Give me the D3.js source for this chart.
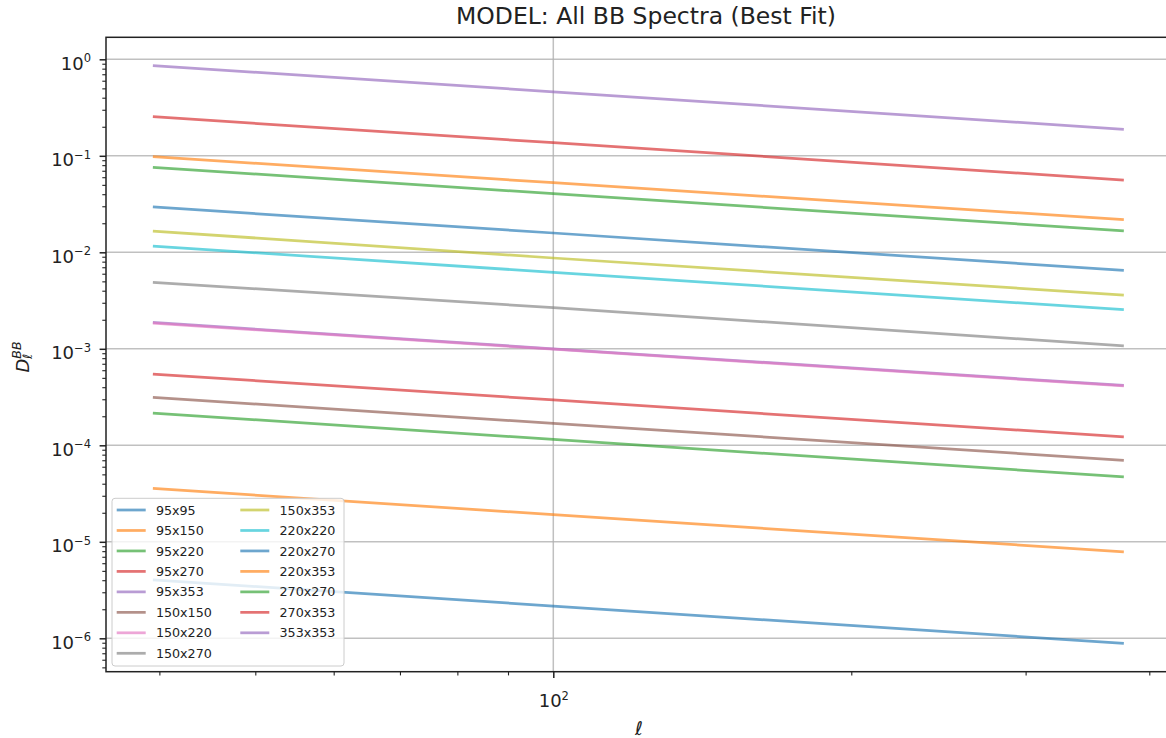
<!DOCTYPE html>
<html>
<head>
<meta charset="utf-8">
<script src="https://cdn.jsdelivr.net/npm/d3@7"></script>
<style>
  body { margin: 0; background: #fff; }
  text { font-family: "DejaVu Sans", sans-serif; fill: #222; }
</style>
</head>
<body>
<svg id="chart"></svg>
<script>
// Data (multipole ell and D_ell^BB per cross spectrum)
const ells = [39.4, 100, 377];
const spectraNames = [
    "95x95", "95x150", "95x220", "95x270", "95x353",
    "150x150", "150x220", "150x270", "150x353",
    "220x220", "220x270", "220x353",
    "270x270", "270x353", "353x353"
];
const d95x95   = [4.04e-6, 2.16e-6, 8.87e-7];
const d95x150  = [3.58e-5, 1.91e-5, 7.87e-6];
const d95x220  = [2.16e-4, 1.15e-4, 4.70e-5];
const d95x270  = [5.48e-4, 2.95e-4, 1.22e-4];
const d95x353  = [1.88e-3, 1.00e-3, 4.17e-4];
const d150x150 = [3.14e-4, 1.69e-4, 7.00e-5];
const d150x220 = [1.85e-3, 0.99e-3, 4.12e-4];
const d150x270 = [4.89e-3, 2.67e-3, 1.07e-3];
const d150x353 = [1.66e-2, 8.73e-3, 3.61e-3];
const d220x220 = [1.16e-2, 6.20e-3, 2.54e-3];
const d220x270 = [2.95e-2, 1.585e-2, 6.50e-3];
const d220x353 = [9.80e-2, 5.26e-2, 2.18e-2];
const d270x270 = [7.60e-2, 4.05e-2, 1.67e-2];
const d270x353 = [0.254, 0.1367, 0.0561];
const d353x353 = [0.86, 0.461, 0.188];
const spectraValues = [
    d95x95, d95x150, d95x220, d95x270, d95x353,
    d150x150, d150x220, d150x270, d150x353,
    d220x220, d220x270, d220x353,
    d270x270, d270x353, d353x353
];
const yDecades = [-6, -5, -4, -3, -2, -1, 0];
const xMajor = [100];
const xMinor = [40, 50, 60, 70, 80, 90, 200, 300, 400];

// Chart dimensions (right edge of the axes is cropped off the picture)
const margin = { top: 37.3, left: 106 };
const width = 1066;
const height = 634.4;

const svg = d3.select("#chart")
    .attr("width", 1166)
    .attr("height", 738);

const g = svg.append("g")
    .attr("transform", `translate(${margin.left},${margin.top})`);

// scales
const x = d3.scaleLog().domain([35.33, 421.7]).range([0, width]);
const y = d3.scaleLog().domain([Math.pow(10, -6.346), Math.pow(10, 0.228)]).range([height, 0]);
const color = d3.scaleOrdinal().domain(spectraNames).range(d3.schemeCategory10);

// grid
g.append("g").selectAll("line")
    .data(yDecades)
    .join("line")
    .attr("x1", 0).attr("x2", width)
    .attr("y1", d => y(Math.pow(10, d))).attr("y2", d => y(Math.pow(10, d)))
    .attr("stroke", "#b0b0b0").attr("stroke-opacity", 0.8).attr("stroke-width", 1.5);
g.append("g").selectAll("line")
    .data(xMajor)
    .join("line")
    .attr("x1", d => x(d)).attr("x2", d => x(d))
    .attr("y1", 0).attr("y2", height)
    .attr("stroke", "#b0b0b0").attr("stroke-opacity", 0.8).attr("stroke-width", 1.5);

// lines
const line = d3.line()
    .x((d, i) => x(ells[i]))
    .y(d => y(d));

g.append("g").selectAll("path")
    .data(spectraValues)
    .join("path")
    .attr("d", d => line(d))
    .attr("fill", "none")
    .attr("stroke", (d, i) => color(spectraNames[i]))
    .attr("stroke-width", 2.75)
    .attr("stroke-opacity", 0.65);

// helper for 10^n labels
function powerLabel(sel, exp, supSize, supRise) {
    sel.text(null);
    sel.append("tspan").text("10");
    sel.append("tspan")
        .attr("font-size", supSize)
        .attr("dy", -supRise)
        .text(exp < 0 ? "\u2212" + (-exp) : exp);
}

// y axis (major)
const yMinorVals = [];
for (let e = -7; e <= 0; e++) {
    for (let m = 2; m <= 9; m++) {
        const v = m * Math.pow(10, e);
        if (v >= y.domain()[0] && v <= y.domain()[1]) yMinorVals.push(v);
    }
}
const yAxis = g.append("g")
    .call(d3.axisLeft(y)
        .tickValues(yDecades.map(d => Math.pow(10, d)))
        .tickSize(6.4)
        .tickPadding(8.6));
yAxis.select(".domain").remove();
yAxis.selectAll(".tick line").attr("stroke", "#222").attr("stroke-width", 1.5);
yAxis.selectAll(".tick text")
    .attr("font-family", "DejaVu Sans")
    .attr("font-size", 18)
    .attr("dy", 0)
    .attr("y", 10)
    .each(function (d) {
        powerLabel(d3.select(this), Math.round(Math.log10(d)), 11.5, 7.6);
    });

g.append("g")
    .call(d3.axisLeft(y).tickValues(yMinorVals).tickSize(3.7).tickFormat(""))
    .call(a => a.select(".domain").remove())
    .selectAll(".tick line").attr("stroke", "#222").attr("stroke-width", 1.1);

// x axis
const xAxis = g.append("g")
    .attr("transform", `translate(0,${height})`)
    .call(d3.axisBottom(x).tickValues(xMajor).tickSize(6.4));
xAxis.select(".domain").remove();
xAxis.selectAll(".tick line").attr("stroke", "#222").attr("stroke-width", 1.5);
xAxis.selectAll(".tick text")
    .attr("font-family", "DejaVu Sans")
    .attr("font-size", 18)
    .attr("dy", 0)
    .attr("y", 35.6)
    .each(function (d) {
        powerLabel(d3.select(this), Math.round(Math.log10(d)), 11.5, 7.3);
    });

g.append("g")
    .attr("transform", `translate(0,${height})`)
    .call(d3.axisBottom(x).tickValues(xMinor).tickSize(3.7).tickFormat(""))
    .call(a => a.select(".domain").remove())
    .selectAll(".tick line").attr("stroke", "#222").attr("stroke-width", 1.1);

// spines
g.append("rect")
    .attr("x", 0).attr("y", 0)
    .attr("width", width).attr("height", height)
    .attr("fill", "none")
    .attr("stroke", "#222")
    .attr("stroke-width", 1.5);

// title
svg.append("text")
    .attr("x", 646)
    .attr("y", 24)
    .attr("text-anchor", "middle")
    .attr("font-size", 23.5)
    .text("MODEL: All BB Spectra (Best Fit)");

// x label
svg.append("text")
    .attr("x", 639)
    .attr("y", 735)
    .attr("text-anchor", "middle")
    .attr("font-size", 19)
    .attr("font-style", "italic")
    .text("\u2113");

// y label D_ell^BB
const yLabel = svg.append("text")
    .attr("transform", "translate(29,357) rotate(-90)")
    .attr("text-anchor", "middle")
    .attr("font-size", 18)
    .attr("font-style", "italic");
yLabel.append("tspan").text("D");
yLabel.append("tspan").attr("font-size", 12.6).attr("dy", 3).text("\u2113");
yLabel.append("tspan").attr("font-size", 12.6).attr("dx", -5.3).attr("dy", -11).text("BB");

// legend
const legend = svg.append("g");
legend.append("rect")
    .attr("x", 112).attr("y", 498.3)
    .attr("width", 232).attr("height", 167.7)
    .attr("rx", 3)
    .attr("fill", "#fff").attr("fill-opacity", 0.8)
    .attr("stroke", "#cccccc").attr("stroke-width", 1);

const legendItems = legend.selectAll(".legend-item")
    .data(spectraNames)
    .join("g")
    .attr("class", "legend-item")
    .attr("transform", (d, i) => {
        const col = i < 8 ? 0 : 1;
        const row = col === 0 ? i : i - 8;
        return `translate(${col === 0 ? 116.7 : 240.3},${510 + row * 20.47})`;
    });

legendItems.append("line")
    .attr("x1", 0).attr("x2", 29)
    .attr("stroke", d => color(d))
    .attr("stroke-width", 2.75)
    .attr("stroke-opacity", 0.65);

legendItems.append("text")
    .attr("x", 39.2)
    .attr("dy", "0.36em")
    .attr("font-size", 12.7)
    .text(d => d);
</script>
</body>
</html>
